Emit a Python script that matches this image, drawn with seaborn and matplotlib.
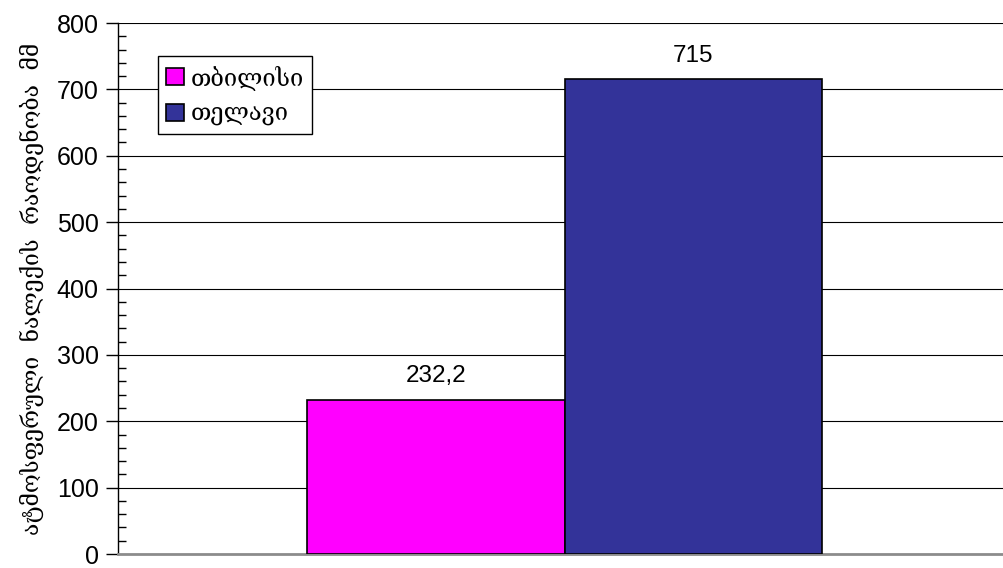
import matplotlib
matplotlib.use("Agg")
import matplotlib.pyplot as plt
from matplotlib.ticker import MultipleLocator
from matplotlib.patches import Patch
import seaborn as sns
import pandas as pd

# Annual precipitation at two stations
cities = ["თბილისი", "თელავი"]
precip_mm = [232.2, 715]
value_labels = ["232,2", "715"]
colors = ["#FF00FF", "#333399"]
ylabel = "ატმოსფერული  ნალექის  რაოდენობა  მმ"
yticks = [0, 100, 200, 300, 400, 500, 600, 700, 800]

sns.set_theme(style="white")
plt.rcParams["font.family"] = ["Liberation Sans", "DejaVu Sans"]
plt.rcParams["text.color"] = "black"
plt.rcParams["axes.labelcolor"] = "black"
plt.rcParams["ytick.color"] = "black"

df = pd.DataFrame({"city": cities, "precip": precip_mm})

fig = plt.figure(figsize=(10.04, 5.68), dpi=100)
ax = fig.add_axes([0.1175, 0.0246, 0.8825, 0.9349])

sns.barplot(data=df, x="city", y="precip", hue="city", palette=colors,
            width=1.0, edgecolor="black", linewidth=1.2, saturation=1,
            legend=False, ax=ax, zorder=3)

ax.set_xlim(-1.234, 2.206)
ax.set_ylim(0, 800)
ax.set_yticks(yticks)
ax.yaxis.set_minor_locator(MultipleLocator(20))
ax.set_xticks([])
ax.set_xlabel("")
ax.grid(axis="y", which="major", color="black", linewidth=0.8, zorder=0)

for s in ["top", "right"]:
    ax.spines[s].set_visible(False)
ax.spines["left"].set_color("black")
ax.spines["left"].set_linewidth(1.0)
ax.spines["bottom"].set_color("#8c8c8c")
ax.spines["bottom"].set_linewidth(2)

ax.tick_params(axis="y", which="major", direction="out", length=9, width=1,
               color="black", labelcolor="black", labelsize=18, pad=5, left=True)
ax.tick_params(axis="y", which="minor", direction="in", length=6, width=1,
               color="black", left=True)

ax.set_ylabel(ylabel, fontsize=16.5, family=["DejaVu Serif", "DejaVu Sans"],
              labelpad=9, color="black")

for i, (v, txt) in enumerate(zip(precip_mm, value_labels)):
    ax.annotate(txt, (i, v), xytext=(0, 9), textcoords="offset points",
                ha="center", va="bottom", fontsize=17.5, color="black", zorder=5)

handles = [Patch(facecolor=c, edgecolor="black", linewidth=1.2) for c in colors]
leg = ax.legend(handles, cities, loc="upper left", bbox_to_anchor=(0.045, 0.937),
                frameon=True, fancybox=False, edgecolor="black", framealpha=1,
                prop={"family": ["DejaVu Serif", "DejaVu Sans"], "size": 17},
                handlelength=0.75, handleheight=0.75, handletextpad=0.3,
                labelspacing=0.55, borderpad=0.35, borderaxespad=0)
leg.get_frame().set_linewidth(1.0)
leg.set_zorder(6)
for t in leg.get_texts():
    t.set_color("black")

fig.savefig("out.png", dpi=100)
